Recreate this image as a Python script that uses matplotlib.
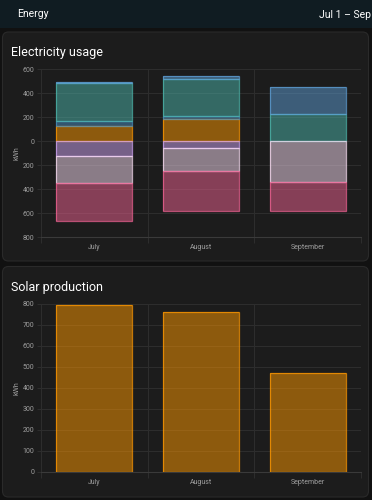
import numpy as np
import matplotlib
matplotlib.use('Agg')
import matplotlib.pyplot as plt
from matplotlib.patches import FancyBboxPatch, Rectangle
from matplotlib.transforms import IdentityTransform
from matplotlib.ticker import FuncFormatter, FixedLocator
from matplotlib.colors import to_rgba

plt.rcParams['font.family'] = ['Roboto', 'DejaVu Sans']

# dados (kWh)
months = ['July', 'August', 'September']

# consumo (positivo, empilhado de baixo para cima)
solar_used = [128, 183, 0]
grid_a = [39, 28, 0]
battery_out = [315, 306, 225]
grid_b = [10, 25, 228]

# retorno / carga (negativo, empilhado de cima para baixo)
grid_return = [125, 55, 0]
other_in = [220, 195, 340]
battery_in = [320, 328, 240]

solar_prod = [794, 763, 472]

W, H = 372, 500
BG = '#111111'
CARD = '#1c1c1c'
GRID = '#2e2e2e'
TXT = '#9e9e9e'

fig = plt.figure(figsize=(W / 100, H / 100), dpi=100, facecolor=BG)

# converte coordenadas de pixel (origem no topo) para display
def px(x, y):
    return x, H - y

# cabecalho
fig.patches.append(Rectangle(px(0, 28), W, 28, transform=IdentityTransform(),
                             facecolor='#101c22', edgecolor='none', zorder=0))
fig.text(17 / W, 1 - 17 / H, 'Energy', color='white', fontsize=7.5)
fig.text(371 / W, 1 - 17.5 / H, 'Jul 1 \u2013 Sep', color='white', fontsize=7.5,
         ha='right')

# cartoes
for y0, y1 in [(32, 261), (266.5, 497)]:
    fig.patches.append(FancyBboxPatch(px(2.5, y1), 366, y1 - y0,
                                      boxstyle='round,pad=0,rounding_size=6',
                                      transform=IdentityTransform(),
                                      facecolor=CARD, edgecolor='#2a2a2a',
                                      linewidth=0.8, zorder=0))

fig.text(11 / W, 1 - 56 / H, 'Electricity usage', color='white', fontsize=9.0)
fig.text(11 / W, 1 - 290.5 / H, 'Solar production', color='white', fontsize=9.0)


def estilo(ax):
    ax.set_zorder(2)
    ax.set_facecolor('none')
    for s in ['top', 'right', 'left']:
        ax.spines[s].set_visible(False)
    ax.spines['bottom'].set_color('#3a3a3a')
    ax.spines['bottom'].set_linewidth(0.8)
    ax.set_xlim(-0.5, 2.5)
    ax.set_xticks(range(3))
    ax.set_xticklabels(months)
    ax.xaxis.set_minor_locator(FixedLocator([-0.5, 0.5, 1.5, 2.5]))
    ax.tick_params(axis='x', which='major', length=0, pad=5, labelsize=5, labelcolor=TXT)
    ax.tick_params(axis='x', which='minor', length=4, width=0.7, color=GRID)
    ax.tick_params(axis='y', length=3, width=0.7, color=GRID, pad=2, labelsize=5, labelcolor=TXT)
    ax.grid(True, axis='y', which='major', color=GRID, linewidth=0.7)
    ax.grid(True, axis='x', which='minor', color=GRID, linewidth=0.7)
    ax.set_axisbelow(True)
    ax.set_ylabel('kWh', color=TXT, fontsize=5, labelpad=1)


def barra(ax, x, base, val, cor):
    if val <= 0:
        return
    ax.bar(x, val, bottom=base, width=0.71, color=cor, alpha=0.5,
           edgecolor='none', zorder=2)
    ax.bar(x, val, bottom=base, width=0.71, color='none',
           edgecolor=to_rgba(cor, 0.75), linewidth=0.9, zorder=3)


# grafico de uso
ax1 = fig.add_axes([41 / W, 1 - 237.3 / H, 320 / W, 168 / H])
estilo(ax1)
pos_series = [(solar_used, '#ff9800'), (grid_a, '#488fc2'),
              (battery_out, '#4db6ac'), (grid_b, '#5e9fd6')]
neg_series = [(grid_return, '#d0a4f4'), (other_in, '#f8dcf2'),
              (battery_in, '#f06292')]
for i in range(3):
    base = 0
    for vals, cor in pos_series:
        barra(ax1, i, base, vals[i], cor)
        base += vals[i]
    base = 0
    for vals, cor in neg_series:
        barra(ax1, i, base - vals[i], vals[i], cor)
        base -= vals[i]
ax1.set_ylim(-800, 600)
ax1.set_yticks(np.arange(-800, 601, 200))
ax1.yaxis.set_major_formatter(FuncFormatter(lambda v, p: '%d' % abs(v)))

# grafico de producao solar
ax2 = fig.add_axes([41 / W, 1 - 471.7 / H, 320 / W, 167.7 / H])
estilo(ax2)
for i in range(3):
    barra(ax2, i, 0, solar_prod[i], '#ff9800')
ax2.set_ylim(0, 800)
ax2.set_yticks(np.arange(0, 801, 100))

fig.savefig('out.png', dpi=100, facecolor=BG)
